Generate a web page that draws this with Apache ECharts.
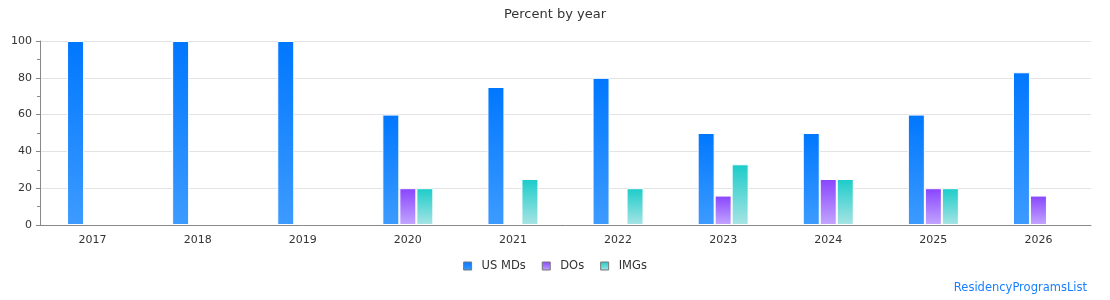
<!DOCTYPE html>
<html>
<head>
<meta charset="utf-8">
<script src="https://cdn.jsdelivr.net/npm/echarts@6/dist/echarts.min.js"></script>
<style>
  html, body { margin: 0; padding: 0; background: #fff; }
  #main { width: 1110px; height: 300px; }
</style>
</head>
<body>
<div id="main"></div>
<script>
var years = ['2017', '2018', '2019', '2020', '2021', '2022', '2023', '2024', '2025', '2026'];
var usMds = [100, 100, 100, 60, 75, 80, 50, 50, 60, 83];
var dos   = [0, 0, 0, 20, 0, 0, 16, 25, 20, 16];
var imgs  = [0, 0, 0, 20, 25, 20, 33, 25, 20, 0];

function grad(top, bottom) {
  return new echarts.graphic.LinearGradient(0, 0, 0, 1, [
    { offset: 0, color: top },
    { offset: 1, color: bottom }
  ]);
}

var myChart = echarts.init(document.getElementById('main'));
var font = 'DejaVu Sans';

myChart.setOption({
  backgroundColor: '#fff',
  animation: false,
  textStyle: { fontFamily: font },
  title: {
    text: 'Percent by year',
    left: 'center',
    top: 3,
    textStyle: { fontFamily: font, fontSize: 13, fontWeight: 'normal', color: '#333' }
  },
  graphic: [{
    type: 'text',
    right: 23,
    bottom: 6,
    style: { text: 'ResidencyProgramsList', fill: '#1a7fff', font: '11.5px "DejaVu Sans"' }
  }],
  legend: {
    bottom: 23,
    left: 'center',
    icon: 'rect',
    itemWidth: 8,
    itemHeight: 8,
    itemGap: 16,
    itemStyle: { borderColor: '#777', borderWidth: 1 },
    textStyle: { fontFamily: font, fontSize: 11.5, color: '#333', padding: [0, 0, 0, 5] },
    data: ['US MDs', 'DOs', 'IMGs']
  },
  grid: { left: 40, right: 19, top: 41, bottom: 75, containLabel: false },
  xAxis: {
    type: 'category',
    data: years,
    z: 10,
    axisTick: { show: false },
    axisLine: { lineStyle: { color: '#888' } },
    axisLabel: { color: '#333', fontSize: 11, margin: 10, fontFamily: font }
  },
  yAxis: {
    type: 'value',
    min: 0,
    max: 100,
    interval: 20,
    axisLine: { show: true, lineStyle: { color: '#888' } },
    axisTick: { show: true, length: 4, lineStyle: { color: '#888' } },
    minorTick: { show: true, splitNumber: 2, length: 3, lineStyle: { color: '#888' } },
    splitLine: { lineStyle: { color: '#e3e3e3' } },
    axisLabel: { color: '#333', fontSize: 11, margin: 8, fontFamily: font }
  },
  series: [
    {
      name: 'US MDs', type: 'bar', data: usMds,
      barWidth: 17, barGap: 0,
      itemStyle: { color: grad('#0077ff', '#3d9bff'), borderColor: '#fff', borderWidth: 1 }
    },
    {
      name: 'DOs', type: 'bar', data: dos,
      barWidth: 17, barGap: 0,
      itemStyle: { color: grad('#8844ff', '#c3a6ff'), borderColor: '#fff', borderWidth: 1 }
    },
    {
      name: 'IMGs', type: 'bar', data: imgs,
      barWidth: 17, barGap: 0,
      itemStyle: { color: grad('#1accc9', '#a8e4e4'), borderColor: '#fff', borderWidth: 1 }
    }
  ]
});
</script>
</body>
</html>
